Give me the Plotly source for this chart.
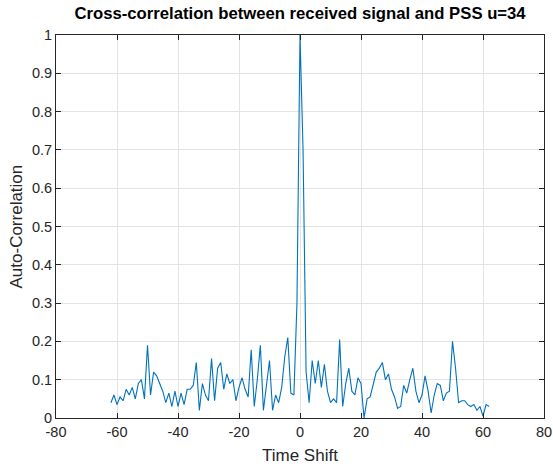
import plotly.graph_objects as go

# Time shifts (lags) and normalized cross-correlation magnitude
time_shift = list(range(-62, 63))
corr_neg = [0.04, 0.06, 0.035, 0.055, 0.045, 0.075, 0.06, 0.08, 0.05, 0.09,
            0.10, 0.05, 0.19, 0.06, 0.12, 0.11, 0.09, 0.07, 0.04, 0.065,
            0.03, 0.07, 0.03, 0.065, 0.035, 0.075, 0.075, 0.085, 0.145, 0.02,
            0.09, 0.06, 0.045, 0.155, 0.045, 0.13, 0.145, 0.075, 0.115, 0.09,
            0.10, 0.045, 0.08, 0.105, 0.075, 0.055, 0.178, 0.03, 0.10, 0.19,
            0.02, 0.08, 0.15, 0.02, 0.06, 0.04, 0.08, 0.16, 0.21, 0.065,
            0.06, 0.30]
corr_pos = [1.0, 0.70, 0.12, 0.04, 0.15, 0.09, 0.15, 0.08, 0.14, 0.07,
            0.04, 0.05, 0.04, 0.205, 0.03, 0.09, 0.13, 0.07, 0.06, 0.105,
            0.09, 0.0, 0.05, 0.055, 0.09, 0.12, 0.13, 0.145, 0.10, 0.115,
            0.075, 0.055, 0.025, 0.03, 0.085, 0.065, 0.10, 0.13, 0.07, 0.04,
            0.06, 0.11, 0.07, 0.013, 0.06, 0.09, 0.085, 0.045, 0.065, 0.07,
            0.20, 0.13, 0.04, 0.045, 0.045, 0.035, 0.03, 0.035, 0.02, 0.03,
            0.005, 0.035, 0.03]
correlation = corr_neg + corr_pos

x_ticks = [-80, -60, -40, -20, 0, 20, 40, 60, 80]
x_tick_labels = ["-80", "-60", "-40", "-20", "0", "20", "40", "60", "80"]
y_ticks = [0, 0.1, 0.2, 0.3, 0.4, 0.5, 0.6, 0.7, 0.8, 0.9, 1]
y_tick_labels = ["0", "0.1", "0.2", "0.3", "0.4", "0.5", "0.6", "0.7", "0.8", "0.9", "1"]

title_text = "Cross-correlation between received signal and PSS u=34"
x_label = "Time Shift"
y_label = "Auto-Correlation"

FONT = "Liberation Sans, Arial, Helvetica, sans-serif"
AX = "#262626"
GRID = "#e3e3e3"

fig = go.Figure()
fig.add_trace(go.Scatter(
    x=time_shift, y=correlation, mode="lines",
    line=dict(color="#0072BD", width=1.1),
    showlegend=False, hoverinfo="skip",
))

axis_common = dict(
    showline=True, linecolor=AX, linewidth=1, mirror="ticks",
    ticks="inside", ticklen=5, tickcolor=AX, tickwidth=1,
    showgrid=True, gridcolor=GRID, gridwidth=1,
    zeroline=False, automargin=False,
    tickfont=dict(family=FONT, size=14.5, color=AX),
)

fig.update_layout(
    width=553, height=464,
    margin=dict(l=56, r=9, t=35, b=46),
    paper_bgcolor="white", plot_bgcolor="white",
    title=dict(text="<b>" + title_text + "</b>", x=0.5426, xanchor="center",
               y=1 - 13 / 464, yanchor="middle", yref="container",
               font=dict(family=FONT, size=16.7, color="black")),
    xaxis=dict(range=[-80, 80], tickvals=x_ticks, ticktext=x_tick_labels,
               ticklabelstandoff=1, **axis_common),
    yaxis=dict(range=[0, 1], tickvals=y_ticks, ticktext=y_tick_labels,
               **axis_common),
    annotations=[
        dict(text=x_label, xref="paper", yref="paper", x=0.5, y=-(455 - 418) / 383,
             xanchor="center", yanchor="middle", showarrow=False,
             font=dict(family=FONT, size=17, color=AX)),
        dict(text=y_label, xref="paper", yref="paper", x=-(56 - 16) / 488, y=0.5,
             xanchor="center", yanchor="middle", showarrow=False, textangle=-90,
             font=dict(family=FONT, size=17, color=AX)),
    ],
)

fig.write_html("out.html")
